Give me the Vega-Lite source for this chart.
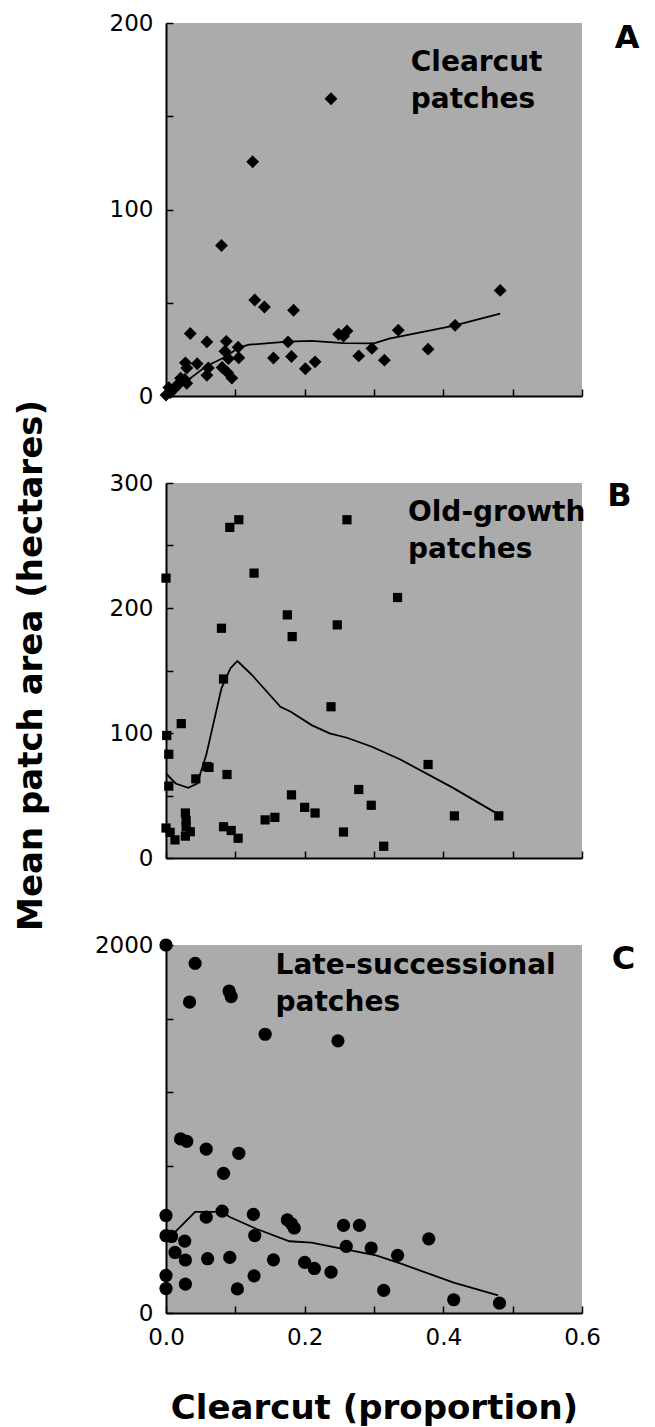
{
  "$schema": "https://vega.github.io/schema/vega-lite/v6.json",
  "padding": {"left": 13, "top": 12, "right": 5, "bottom": 5},
  "background": "white",
  "bounds": "flush",
  "spacing": 87,
  "config": {
    "font": "DejaVu Sans",
    "view": {"fill": "#ababab", "stroke": null},
    "axis": {
      "grid": false,
      "domainColor": "black",
      "domainWidth": 2,
      "tickColor": "black",
      "tickWidth": 1.5,
      "tickSize": -7,
      "labelFont": "DejaVu Sans",
      "labelFontSize": 23,
      "labelColor": "black",
      "labelPadding": 20,
      "labelFlush": false,
      "labelOverlap": false,
      "labelBound": false,
      "titleFont": "DejaVu Sans",
      "titleFontSize": 34,
      "titleFontWeight": "bold",
      "titleColor": "black"
    }
  },
  "datasets": {
    "pointsA": [
      {"x": 0.238, "y": 159.4}, {"x": 0.125, "y": 125.6}, {"x": 0.080, "y": 80.7}, {"x": 0.482, "y": 56.6},
      {"x": 0.128, "y": 51.5}, {"x": 0.142, "y": 47.7}, {"x": 0.184, "y": 46.0}, {"x": 0.035, "y": 33.5},
      {"x": 0.059, "y": 29.0}, {"x": 0.087, "y": 29.3}, {"x": 0.104, "y": 26.2}, {"x": 0.085, "y": 24.0},
      {"x": 0.090, "y": 20.0}, {"x": 0.105, "y": 20.5}, {"x": 0.028, "y": 17.8}, {"x": 0.030, "y": 15.0},
      {"x": 0.045, "y": 17.3}, {"x": 0.061, "y": 15.0}, {"x": 0.059, "y": 11.1}, {"x": 0.081, "y": 15.3},
      {"x": 0.089, "y": 12.5}, {"x": 0.095, "y": 9.6}, {"x": 0.176, "y": 29.0}, {"x": 0.155, "y": 20.4},
      {"x": 0.181, "y": 21.2}, {"x": 0.201, "y": 14.6}, {"x": 0.215, "y": 18.3}, {"x": 0.249, "y": 33.1},
      {"x": 0.256, "y": 32.1}, {"x": 0.261, "y": 34.9}, {"x": 0.278, "y": 21.5}, {"x": 0.297, "y": 25.5},
      {"x": 0.315, "y": 19.2}, {"x": 0.335, "y": 35.3}, {"x": 0.378, "y": 25.1}, {"x": 0.417, "y": 37.9},
      {"x": 0.027, "y": 8.9}, {"x": 0.030, "y": 6.8}, {"x": 0.018, "y": 6.3}, {"x": 0.011, "y": 3.6},
      {"x": 0.004, "y": 4.5}, {"x": 0.000, "y": 0.5}, {"x": 0.006, "y": 1.8}, {"x": 0.021, "y": 9.5},
      {"x": 0.014, "y": 5.0}
    ],
    "lineA": [
      {"x": 0.0, "y": 0.0}, {"x": 0.03, "y": 8}, {"x": 0.058, "y": 16}, {"x": 0.086, "y": 21},
      {"x": 0.105, "y": 26}, {"x": 0.12, "y": 27.5}, {"x": 0.175, "y": 29.2}, {"x": 0.21, "y": 29.6},
      {"x": 0.256, "y": 28.3}, {"x": 0.30, "y": 28.2}, {"x": 0.322, "y": 30.8}, {"x": 0.414, "y": 37.6},
      {"x": 0.482, "y": 44.2}
    ],
    "pointsB": [
      {"x": 0.000, "y": 223.9}, {"x": 0.001, "y": 98}, {"x": 0.004, "y": 83}, {"x": 0.004, "y": 57.5},
      {"x": 0.022, "y": 107.5}, {"x": 0.000, "y": 24}, {"x": 0.006, "y": 20.5}, {"x": 0.013, "y": 14.5},
      {"x": 0.028, "y": 36}, {"x": 0.029, "y": 30}, {"x": 0.029, "y": 25}, {"x": 0.028, "y": 17.5},
      {"x": 0.035, "y": 21}, {"x": 0.043, "y": 63.3}, {"x": 0.059, "y": 73.2}, {"x": 0.062, "y": 72.5},
      {"x": 0.080, "y": 183.8}, {"x": 0.083, "y": 143.2}, {"x": 0.088, "y": 66.8}, {"x": 0.083, "y": 25},
      {"x": 0.094, "y": 22}, {"x": 0.104, "y": 15.8}, {"x": 0.092, "y": 264.5}, {"x": 0.105, "y": 270.6},
      {"x": 0.127, "y": 227.9}, {"x": 0.143, "y": 30.5}, {"x": 0.157, "y": 32.5}, {"x": 0.175, "y": 194.5},
      {"x": 0.182, "y": 177.1}, {"x": 0.181, "y": 50.5}, {"x": 0.200, "y": 40.5}, {"x": 0.215, "y": 36},
      {"x": 0.238, "y": 121.0}, {"x": 0.247, "y": 186.5}, {"x": 0.256, "y": 20.8}, {"x": 0.261, "y": 270.6},
      {"x": 0.278, "y": 54.8}, {"x": 0.296, "y": 42.2}, {"x": 0.314, "y": 9.4}, {"x": 0.334, "y": 208.4},
      {"x": 0.378, "y": 74.8}, {"x": 0.416, "y": 33.7}, {"x": 0.480, "y": 33.7}
    ],
    "lineB": [
      {"x": 0.0, "y": 67.6}, {"x": 0.014, "y": 59.6}, {"x": 0.032, "y": 56.1}, {"x": 0.045, "y": 59.6},
      {"x": 0.058, "y": 82.3}, {"x": 0.080, "y": 135.7}, {"x": 0.093, "y": 151.8}, {"x": 0.103, "y": 157.6},
      {"x": 0.124, "y": 146.4}, {"x": 0.165, "y": 121.0}, {"x": 0.180, "y": 117.0}, {"x": 0.210, "y": 106.3},
      {"x": 0.236, "y": 99.7}, {"x": 0.261, "y": 96.2}, {"x": 0.297, "y": 89.0}, {"x": 0.338, "y": 78.8},
      {"x": 0.414, "y": 56.1}, {"x": 0.480, "y": 34.7}
    ],
    "pointsC": [
      {"x": 0.000, "y": 2000}, {"x": 0.042, "y": 1900}, {"x": 0.034, "y": 1690}, {"x": 0.091, "y": 1750},
      {"x": 0.094, "y": 1720}, {"x": 0.143, "y": 1515}, {"x": 0.248, "y": 1479}, {"x": 0.021, "y": 946},
      {"x": 0.030, "y": 933}, {"x": 0.058, "y": 891}, {"x": 0.105, "y": 868}, {"x": 0.083, "y": 759},
      {"x": 0.000, "y": 530}, {"x": 0.058, "y": 521}, {"x": 0.081, "y": 554}, {"x": 0.126, "y": 536},
      {"x": 0.175, "y": 506}, {"x": 0.181, "y": 485}, {"x": 0.185, "y": 462}, {"x": 0.256, "y": 476},
      {"x": 0.279, "y": 476}, {"x": 0.000, "y": 420}, {"x": 0.008, "y": 416}, {"x": 0.027, "y": 391},
      {"x": 0.128, "y": 421}, {"x": 0.013, "y": 329}, {"x": 0.028, "y": 288}, {"x": 0.060, "y": 295},
      {"x": 0.092, "y": 302}, {"x": 0.155, "y": 289}, {"x": 0.200, "y": 275}, {"x": 0.214, "y": 242},
      {"x": 0.238, "y": 222}, {"x": 0.260, "y": 362}, {"x": 0.296, "y": 353}, {"x": 0.334, "y": 313},
      {"x": 0.379, "y": 403}, {"x": 0.000, "y": 204}, {"x": 0.000, "y": 133}, {"x": 0.028, "y": 157},
      {"x": 0.127, "y": 202}, {"x": 0.103, "y": 131}, {"x": 0.314, "y": 123}, {"x": 0.415, "y": 72},
      {"x": 0.481, "y": 54}
    ],
    "lineC": [
      {"x": 0.0, "y": 385}, {"x": 0.013, "y": 440}, {"x": 0.042, "y": 550}, {"x": 0.080, "y": 550},
      {"x": 0.092, "y": 522}, {"x": 0.13, "y": 458}, {"x": 0.178, "y": 390}, {"x": 0.21, "y": 382},
      {"x": 0.257, "y": 347}, {"x": 0.303, "y": 313}, {"x": 0.339, "y": 268}, {"x": 0.415, "y": 165},
      {"x": 0.479, "y": 96}
    ],
    "textA": [{"label": ["Clearcut", "patches"], "letter": "A"}],
    "textB": [{"label": ["Old-growth", "patches"], "letter": "B"}],
    "textC": [{"label": ["Late-successional", "patches"], "letter": "C"}]
  },
  "vconcat": [
    {
      "width": 416,
      "height": 373,
      "layer": [
        {
          "data": {"name": "pointsA"},
          "mark": {"type": "point", "shape": "diamond", "filled": true, "color": "black", "opacity": 1, "size": 165},
          "encoding": {
            "x": {"field": "x", "type": "quantitative", "scale": {"domain": [0, 0.6], "nice": false},
                  "axis": {"values": [0, 0.1, 0.2, 0.3, 0.4, 0.5, 0.6], "labels": false, "title": null}},
            "y": {"field": "y", "type": "quantitative", "scale": {"domain": [0, 200], "nice": false},
                  "axis": {"values": [0, 50, 100, 150, 200], "format": "d", "labelExpr": "datum.value % 100 == 0 ? datum.label : ''", "title": null}}
          }
        },
        {
          "data": {"name": "lineA"},
          "mark": {"type": "line", "color": "black", "strokeWidth": 1.8},
          "encoding": {
            "x": {"field": "x", "type": "quantitative"},
            "y": {"field": "y", "type": "quantitative"}
          }
        },
        {
          "data": {"name": "textA"},
          "mark": {"type": "text", "align": "left", "baseline": "alphabetic", "font": "DejaVu Sans", "fontWeight": "bold", "fontSize": 28, "lineHeight": 36.5, "color": "black"},
          "encoding": {
            "x": {"datum": 0.353, "type": "quantitative"},
            "y": {"datum": 174.2, "type": "quantitative"},
            "text": {"field": "label"}
          }
        },
        {
          "data": {"name": "textA"},
          "mark": {"type": "text", "align": "center", "baseline": "alphabetic", "font": "DejaVu Sans", "fontWeight": "bold", "fontSize": 32, "color": "black"},
          "encoding": {
            "x": {"datum": 0.665, "type": "quantitative"},
            "y": {"datum": 186.6, "type": "quantitative"},
            "text": {"field": "letter"}
          }
        }
      ]
    },
    {
      "width": 416,
      "height": 375,
      "layer": [
        {
          "data": {"name": "pointsB"},
          "mark": {"type": "point", "shape": "square", "filled": true, "color": "black", "opacity": 1, "size": 85},
          "encoding": {
            "x": {"field": "x", "type": "quantitative", "scale": {"domain": [0, 0.6], "nice": false},
                  "axis": {"values": [0, 0.1, 0.2, 0.3, 0.4, 0.5, 0.6], "labels": false, "title": null}},
            "y": {"field": "y", "type": "quantitative", "scale": {"domain": [0, 300], "nice": false},
                  "axis": {"values": [0, 50, 100, 150, 200, 250, 300], "format": "d", "labelExpr": "datum.value % 100 == 0 ? datum.label : ''",
                           "title": "Mean patch area (hectares)", "titleAngle": 270, "titleBaseline": "alphabetic", "titleAlign": "center", "titleX": -125, "titleY": 182}}
          }
        },
        {
          "data": {"name": "lineB"},
          "mark": {"type": "line", "color": "black", "strokeWidth": 1.8},
          "encoding": {
            "x": {"field": "x", "type": "quantitative"},
            "y": {"field": "y", "type": "quantitative"}
          }
        },
        {
          "data": {"name": "textB"},
          "mark": {"type": "text", "align": "left", "baseline": "alphabetic", "font": "DejaVu Sans", "fontWeight": "bold", "fontSize": 28, "lineHeight": 36.8, "color": "black"},
          "encoding": {
            "x": {"datum": 0.349, "type": "quantitative"},
            "y": {"datum": 269.3, "type": "quantitative"},
            "text": {"field": "label"}
          }
        },
        {
          "data": {"name": "textB"},
          "mark": {"type": "text", "align": "center", "baseline": "alphabetic", "font": "DejaVu Sans", "fontWeight": "bold", "fontSize": 32, "color": "black"},
          "encoding": {
            "x": {"datum": 0.654, "type": "quantitative"},
            "y": {"datum": 281.4, "type": "quantitative"},
            "text": {"field": "letter"}
          }
        }
      ]
    },
    {
      "width": 416,
      "height": 368,
      "layer": [
        {
          "data": {"name": "pointsC"},
          "mark": {"type": "point", "shape": "circle", "filled": true, "color": "black", "opacity": 1, "size": 175},
          "encoding": {
            "x": {"field": "x", "type": "quantitative", "scale": {"domain": [0, 0.6], "nice": false},
                  "axis": {"values": [0, 0.1, 0.2, 0.3, 0.4, 0.5, 0.6], "format": ".1f", "labelExpr": "round(datum.value * 10) % 2 == 0 ? datum.label : ''",
                           "title": "Clearcut (proportion)", "titleBaseline": "alphabetic", "titleY": 105}},
            "y": {"field": "y", "type": "quantitative", "scale": {"domain": [0, 2000], "nice": false},
                  "axis": {"values": [0, 200, 400, 600, 800, 1000, 1200, 1400, 1600, 1800, 2000], "format": "d", "labelExpr": "datum.value % 1000 == 0 ? datum.label : ''", "title": null}}
          }
        },
        {
          "data": {"name": "lineC"},
          "mark": {"type": "line", "color": "black", "strokeWidth": 1.8},
          "encoding": {
            "x": {"field": "x", "type": "quantitative"},
            "y": {"field": "y", "type": "quantitative"}
          }
        },
        {
          "data": {"name": "textC"},
          "mark": {"type": "text", "align": "left", "baseline": "alphabetic", "font": "DejaVu Sans", "fontWeight": "bold", "fontSize": 28, "lineHeight": 36.6, "color": "black"},
          "encoding": {
            "x": {"datum": 0.158, "type": "quantitative"},
            "y": {"datum": 1842, "type": "quantitative"},
            "text": {"field": "label"}
          }
        },
        {
          "data": {"name": "textC"},
          "mark": {"type": "text", "align": "center", "baseline": "alphabetic", "font": "DejaVu Sans", "fontWeight": "bold", "fontSize": 32, "color": "black"},
          "encoding": {
            "x": {"datum": 0.66, "type": "quantitative"},
            "y": {"datum": 1869, "type": "quantitative"},
            "text": {"field": "letter"}
          }
        }
      ]
    }
  ]
}
